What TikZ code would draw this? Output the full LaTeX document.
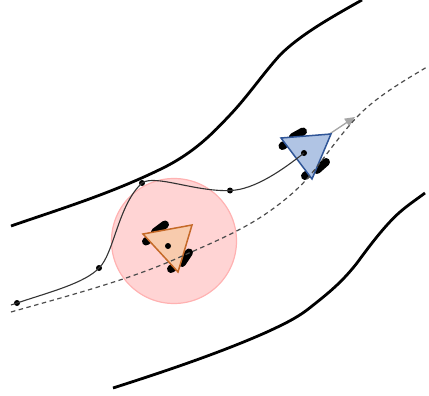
\documentclass[tikz,border=0pt]{standalone}
\usetikzlibrary{arrows.meta}
\tikzset{
 road/.style={line width=2.8pt,black},
 traj/.style={line width=1.1pt,black!80},
 refline/.style={line width=1.2pt,black!70,dash pattern=on 4.5pt off 3.5pt},
 wheel/.style={line width=8pt,black,line cap=round},
 wp/.style={circle,fill=black,inner sep=0pt,minimum size=6pt},
 tri/.style={line width=1.5pt,line join=miter},
}
\begin{document}
\begin{tikzpicture}[x=1pt,y=-1pt]
\useasboundingbox (0,0) rectangle (429,396);
% pink zone
\node[circle,minimum size=125pt,inner sep=0pt,draw={rgb,255:red,255;green,178;blue,178},fill={rgb,255:red,255;green,212;blue,212},line width=1.2pt] (zone) at (174,241) {};
% roads
\coordinate (ra) at (11,226); \coordinate (rb) at (362,0);
\coordinate (la) at (113,388); \coordinate (lb) at (425,193);
\coordinate (da) at (11,312); \coordinate (db) at (427,67);
\draw[road] (ra) .. controls (60,209) and (110,194) .. (163,168)
  .. controls (195,152) and (213,133) .. (230,115)
  .. controls (248,96) and (262,75) .. (280,55)
  .. controls (300,35) and (330,18) .. (rb);
\draw[road] (la) .. controls (160,373) and (220,353) .. (267,332)
  .. controls (282,325) and (295,319) .. (307,310)
  .. controls (330,292) and (342,282) .. (357,263)
  .. controls (368,248) and (385,225) .. (400,212)
  .. controls (408,205) and (417,199) .. (lb);
% arrow
\coordinate (tip) at (355,117);
\coordinate (tail) at (328,135);
\draw[line width=1.3pt,black!35,-{Triangle[length=10pt,width=9pt]}] (tail) -- (tip);
% car 1 wheels
\coordinate (w1a) at (155,232); \coordinate (w1b) at (165,224.5);
\coordinate (w2a) at (146,241.5); \coordinate (w2b) at (148,240);
\coordinate (w3a) at (171,269); \coordinate (w3b) at (173,267.5);
\coordinate (w4a) at (182,263); \coordinate (w4b) at (189,252.5);
\draw[wheel] (w1a) -- (w1b);
\draw[wheel] (w2a) -- (w2b);
\draw[wheel] (w3a) -- (w3b);
\draw[wheel] (w4a) -- (w4b);
\coordinate (o1) at (143,234); \coordinate (o2) at (192,225); \coordinate (o3) at (178,272);
\draw[tri,draw={rgb,255:red,197;green,105;blue,40},fill={rgb,255:red,248;green,203;blue,173}] (o1) -- (o2) -- (o3) -- cycle;
% car 2 wheels
\coordinate (b1a) at (293,137); \coordinate (b1b) at (303,131.5);
\coordinate (b2a) at (282.5,146); \coordinate (b2b) at (284,145);
\coordinate (b3a) at (305,176); \coordinate (b3b) at (307,174.5);
\coordinate (b4a) at (317,170); \coordinate (b4b) at (326,162);
\draw[wheel] (b1a) -- (b1b);
\draw[wheel] (b2a) -- (b2b);
\draw[wheel] (b3a) -- (b3b);
\draw[wheel] (b4a) -- (b4b);
\coordinate (c1) at (281,138); \coordinate (c2) at (331,134); \coordinate (c3) at (312,179);
\draw[tri,draw={rgb,255:red,47;green,85;blue,151},fill={rgb,255:red,176;green,196;blue,228}] (c1) -- (c2) -- (c3) -- cycle;
% waypoints
\node[wp] (p0) at (17,303) {};
\node[wp] (p1) at (99,268) {};
\node[wp] (p2) at (142,183) {};
\node[wp] (p3) at (230,190.5) {};
\node[wp] (p4) at (304,153) {};
\node[wp] (car) at (168,246) {};
\coordinate (s) at (11,305);
% trajectory
\draw[traj] (s) -- (p0.center) .. controls (50,292) and (85,283) .. (p1.center)
  .. controls (114,254) and (118,205) .. (p2.center)
  .. controls (155,174) and (195,192) .. (p3.center)
  .. controls (255,190) and (285,168) .. (p4.center);
% dashed reference
\draw[refline] (da) .. controls (60,298) and (130,280) .. (180,257)
  .. controls (200,248) and (240,232) .. (267,213)
  .. controls (283,202) and (300,188) .. (312,173)
  .. controls (325,157) and (340,135) .. (357,117)
  .. controls (375,98) and (400,83) .. (db);
\end{tikzpicture}
\end{document}
